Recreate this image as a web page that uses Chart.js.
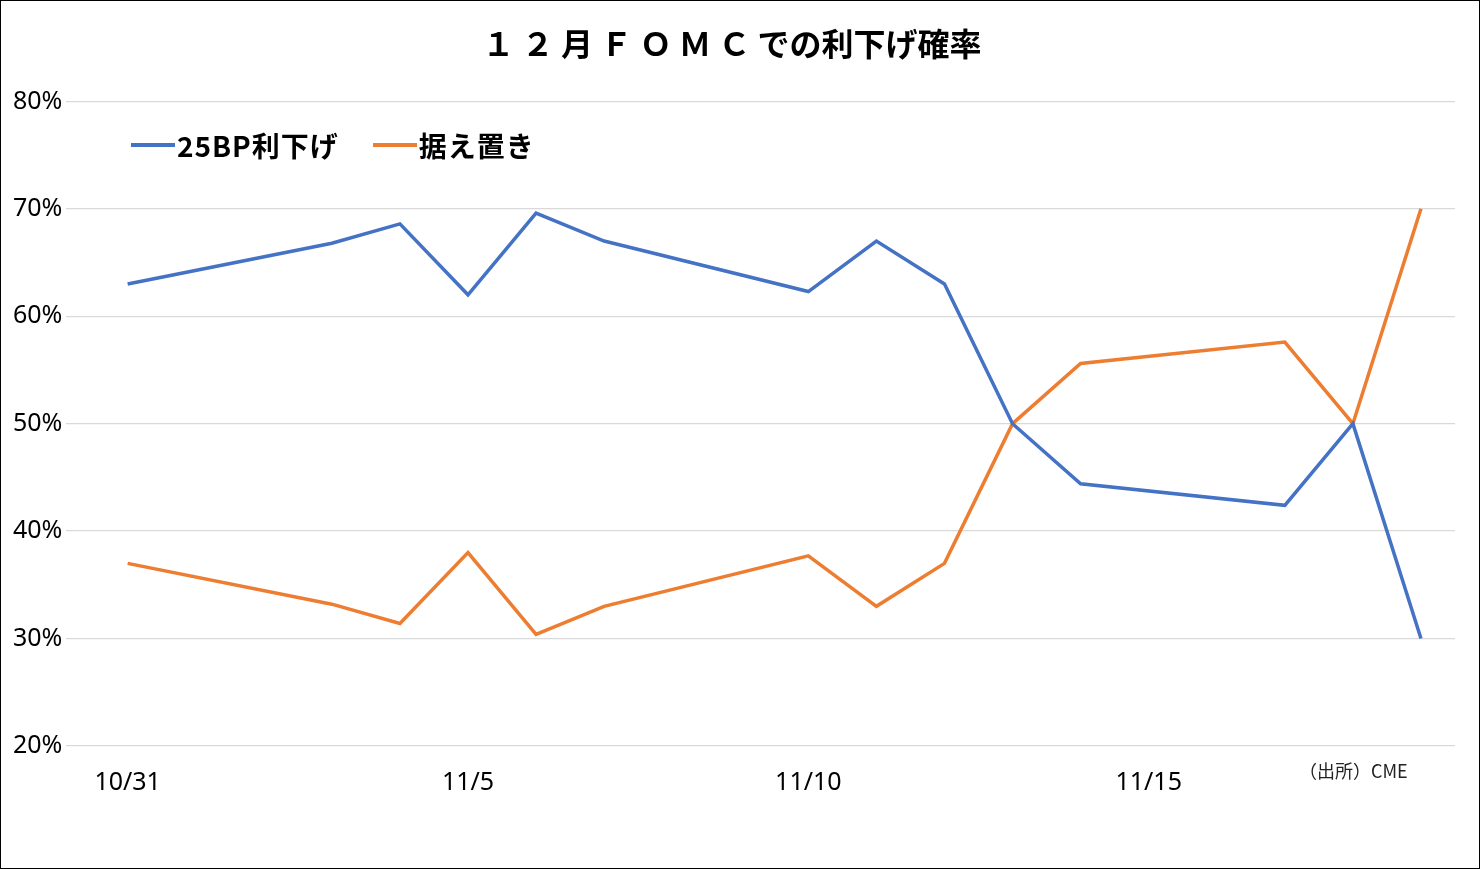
<!DOCTYPE html>
<html>
<head>
<meta charset="utf-8">
<script src="https://cdn.jsdelivr.net/npm/chart.js@4"></script>
<style>
  body { margin: 0; background: #fff; }
  #wrap { position: relative; width: 1478px; height: 867px; border: 1px solid #000; }
  .legend { position: absolute; top: 124px; left: 130px; font: bold 28px "Noto Sans CJK JP"; color: #000; display: flex; align-items: center; letter-spacing: 1px; }
  .legend span.sw { display: inline-block; width: 44px; height: 4px; margin-right: 2px; }
  .src { position: absolute; left: 1298px; top: 756px; font: 18px "Noto Sans CJK JP"; color: #222; }
</style>
</head>
<body>
<div id="wrap">
  <canvas id="c" width="1478" height="867"></canvas>
  <div class="legend">
    <span class="sw" style="background:#4472c4"></span>25BP利下げ
    <span class="sw" style="background:#ed7d31;margin-left:34px"></span>据え置き
  </div>
  <div class="src">（出所）CME</div>
</div>
<script>
// day index from 10/31
const days = [0, 3, 4, 5, 6, 7, 10, 11, 12, 13, 14, 17, 18, 19];
const cut25 = [63, 66.8, 68.6, 62, 69.6, 67, 62.3, 67, 63, 50, 44.4, 42.4, 50, 30];
const hold = [37, 33.2, 31.4, 38, 30.4, 33, 37.7, 33, 37, 50, 55.6, 57.6, 50, 70];
const tickLabels = { 0: '10/31', 5: '11/5', 10: '11/10', 15: '11/15' };

const toPts = vals => days.map((d, i) => ({ x: d, y: vals[i] }));

new Chart(document.getElementById('c'), {
    type: 'line',
    data: {
        datasets: [
            { label: '25BP利下げ', data: toPts(cut25), borderColor: '#4472c4', borderWidth: 3.5, pointRadius: 0, tension: 0 },
            { label: '据え置き', data: toPts(hold), borderColor: '#ed7d31', borderWidth: 3.5, pointRadius: 0, tension: 0 }
        ]
    },
    options: {
        responsive: false,
        animation: false,
        layout: { padding: { left: 8, right: 24, top: 12, bottom: 56 } },
        plugins: {
            legend: { display: false },
            title: {
                display: true,
                text: '１ ２ 月 Ｆ Ｏ Ｍ Ｃ での利下げ確率',
                font: { family: 'Noto Sans CJK JP', size: 32, weight: 'bold' },
                color: '#000',
                padding: { top: 12, bottom: 38 }
            }
        },
        scales: {
            x: {
                type: 'linear', min: -0.9, max: 19.5,
                grid: { display: false },
                border: { display: false },
                afterBuildTicks: axis => { axis.ticks = [0, 5, 10, 15].map(v => ({ value: v })); },
                ticks: {
                    callback: v => tickLabels[v] || '',
                    font: { family: 'Noto Sans', size: 25 }, color: '#000', padding: 14, maxRotation: 0
                }
            },
            y: {
                min: 20, max: 80,
                ticks: { stepSize: 10, callback: v => v + '%', font: { family: 'Noto Sans', size: 25 }, color: '#000', padding: 4 },
                grid: { color: '#d9d9d9', lineWidth: 1.3, drawTicks: false },
                border: { display: false }
            }
        }
    }
});
</script>
</body>
</html>
